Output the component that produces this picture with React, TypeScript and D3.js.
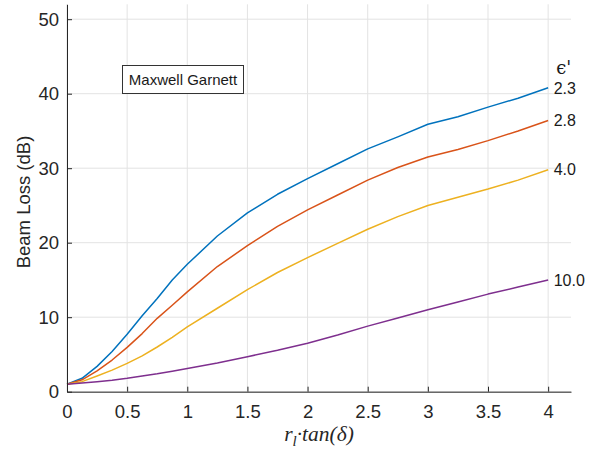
import React, { useRef, useEffect } from 'react';
import * as d3 from 'd3';

// x values (r_l * tan(delta))
const xs = [0, 0.125, 0.25, 0.375, 0.5, 0.625, 0.75, 0.875, 1, 1.25, 1.5, 1.75, 2, 2.25, 2.5, 2.75, 3, 3.25, 3.5, 3.75, 4];

// beam loss (dB) per eps'
const loss23 = [1.0, 1.8, 3.4, 5.4, 7.7, 10.2, 12.5, 15.0, 17.1, 20.9, 24.0, 26.5, 28.6, 30.6, 32.6, 34.2, 35.9, 36.9, 38.2, 39.4, 40.8];
const loss28 = [1.0, 1.6, 2.8, 4.25, 5.95, 7.8, 9.85, 11.6, 13.4, 16.8, 19.6, 22.2, 24.4, 26.4, 28.4, 30.1, 31.5, 32.5, 33.7, 35.0, 36.4];
const loss40 = [1.0, 1.35, 2.1, 2.9, 3.8, 4.8, 6.0, 7.3, 8.7, 11.2, 13.7, 16.0, 18.0, 19.9, 21.8, 23.5, 25.0, 26.1, 27.2, 28.4, 29.8];
const loss100 = [1.0, 1.17, 1.35, 1.55, 1.8, 2.1, 2.4, 2.75, 3.1, 3.85, 4.7, 5.55, 6.5, 7.6, 8.8, 9.9, 11.0, 12.05, 13.1, 14.05, 15.0];

const seriesLabels = ['2.3', '2.8', '4.0', '10.0'];
const seriesColors = ['#0072BD', '#D95319', '#EDB120', '#7E2F8E'];

const xTicks = [0, 0.5, 1, 1.5, 2, 2.5, 3, 3.5, 4];
const yTicks = [0, 10, 20, 30, 40, 50];

const App = () => {
  const svgRef = useRef<SVGSVGElement>(null);
  const width = 598;
  const height = 451;

  useEffect(() => {
    const svg = d3.select(svgRef.current);
    svg.selectAll('*').remove();

    const x = d3.scaleLinear().domain([0, 4.19]).range([67, 571]);
    const y = d3.scaleLinear().domain([0, 52]).range([391.7, 4.3]);
    const axisColor = '#262626';
    const font = 'Liberation Sans, Arial, sans-serif';

    // grid
    svg.append('g').selectAll('line').data(xTicks).enter().append('line')
      .attr('x1', d => x(d)).attr('x2', d => x(d))
      .attr('y1', y(52)).attr('y2', y(0))
      .attr('stroke', '#e3e3e3').attr('stroke-width', 1);
    svg.append('g').selectAll('line').data(yTicks).enter().append('line')
      .attr('x1', x(0)).attr('x2', x(4.19))
      .attr('y1', d => y(d)).attr('y2', d => y(d))
      .attr('stroke', '#e3e3e3').attr('stroke-width', 1);

    // curves
    const all = [loss23, loss28, loss40, loss100];
    const line = d3.line<number>()
      .x((d, i) => x(xs[i]))
      .y(d => y(d));
    all.forEach((s, k) => {
      svg.append('path')
        .attr('d', line(s))
        .attr('fill', 'none')
        .attr('stroke', seriesColors[k])
        .attr('stroke-width', 1.5)
        .attr('stroke-linejoin', 'round');
      svg.append('text')
        .attr('x', x(4) + 5.5)
        .attr('y', y(s[s.length - 1]))
        .attr('dy', '0.36em')
        .attr('font-family', font)
        .attr('font-size', 16)
        .attr('fill', '#1a1a1a')
        .text(seriesLabels[k]);
    });

    svg.append('text')
      .attr('x', x(4) + 8)
      .attr('y', 73.5)
      .attr('font-family', 'DejaVu Serif, serif')
      .attr('font-size', 18)
      .attr('fill', '#1a1a1a')
      .text("\u03F5'");

    // axes
    const fmt = d3.format('~g');
    const xAxis = svg.append('g').attr('transform', `translate(0,${y(0)})`)
      .call(d3.axisBottom(x).tickValues(xTicks).tickFormat(fmt).tickSizeInner(-5).tickSizeOuter(0).tickPadding(13));
    const yAxis = svg.append('g').attr('transform', `translate(${x(0)},0)`)
      .call(d3.axisLeft(y).tickValues(yTicks).tickFormat(fmt).tickSizeInner(-5).tickSizeOuter(0).tickPadding(8));
    [xAxis, yAxis].forEach(a => {
      a.select('.domain').attr('stroke', axisColor);
      a.selectAll('.tick line').attr('stroke', axisColor);
      a.selectAll('.tick text')
        .attr('font-family', font)
        .attr('font-size', 18.5)
        .attr('fill', axisColor);
    });

    // y label
    svg.append('text')
      .attr('transform', `translate(30,${(y(0) + y(52)) / 2 + 4}) rotate(-90)`)
      .attr('text-anchor', 'middle')
      .attr('font-family', font)
      .attr('font-size', 18.5)
      .attr('fill', axisColor)
      .text('Beam Loss (dB)');

    // x label
    const xl = svg.append('text')
      .attr('x', (x(0) + x(4.19)) / 2)
      .attr('y', 441)
      .attr('text-anchor', 'middle')
      .attr('font-family', 'Liberation Serif, serif')
      .attr('font-style', 'italic')
      .attr('font-size', 21.5)
      .attr('fill', axisColor);
    xl.append('tspan').text('r');
    xl.append('tspan').attr('font-size', 15).attr('dy', 5).text('l');
    xl.append('tspan').attr('dy', -5).text('\u00B7tan(\u03B4)');

    // annotation box
    svg.append('rect')
      .attr('x', 122.5).attr('y', 65.5)
      .attr('width', 121).attr('height', 28)
      .attr('fill', '#fff')
      .attr('stroke', '#333').attr('stroke-width', 1);
    svg.append('text')
      .attr('x', 183).attr('y', 79.5)
      .attr('dy', '0.36em')
      .attr('text-anchor', 'middle')
      .attr('font-family', font)
      .attr('font-size', 15)
      .attr('fill', '#1a1a1a')
      .text('Maxwell Garnett');
  }, []);

  return (
    <svg ref={svgRef} width={width} height={height}
      style={{ position: 'absolute', left: 0, top: 0, background: '#fff' }} />
  );
};

export default App;
